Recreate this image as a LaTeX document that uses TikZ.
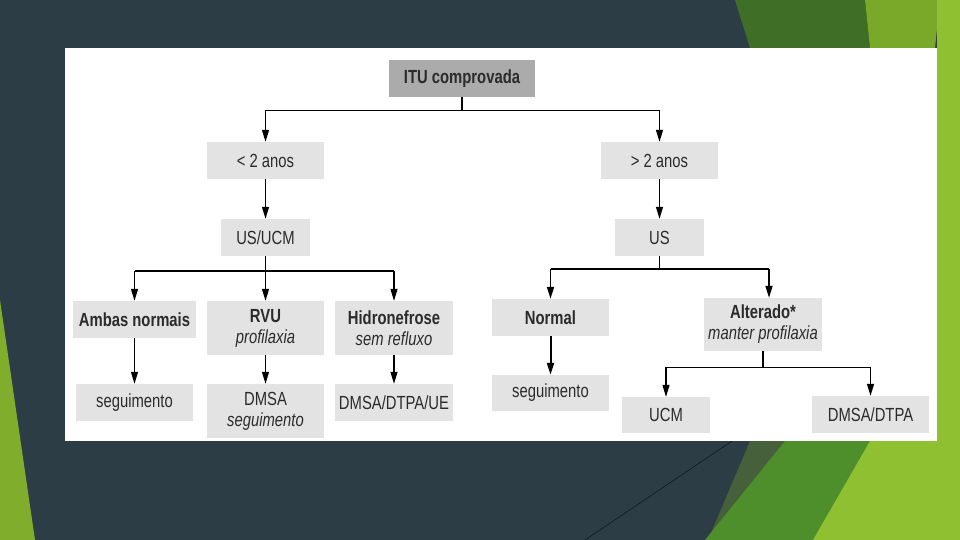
\documentclass[tikz,border=0pt]{standalone}
\usepackage{fontspec}
\setmainfont[FakeStretch=0.78]{Liberation Sans}
\usetikzlibrary{arrows.meta,calc}
\definecolor{slate}{HTML}{2C3D46}
\definecolor{gdark}{HTML}{3F6E27}
\definecolor{gmid}{HTML}{7AA92A}
\definecolor{glight}{HTML}{8FC031}
\definecolor{golive}{HTML}{45603A}
\definecolor{ggreen}{HTML}{4E8F2B}
\definecolor{boxgray}{HTML}{E3E3E3}
\definecolor{topgray}{HTML}{ABABAB}
\definecolor{txt}{HTML}{2B2B2B}
\tikzset{
  box/.style={fill=boxgray, inner sep=0pt, align=center, text=txt,
    font=\fontsize{19}{21}\selectfont},
  topbox/.style={box, fill=topgray},
  conn/.style={draw=black, line width=1.3pt, -{Triangle[length=12pt,width=7pt]}},
  plainline/.style={draw=black, line width=1.3pt},
  thick line/.style={line width=2pt}
}
\begin{document}
\begin{tikzpicture}[x=1pt,y=-1pt]
\useasboundingbox (0,0) rectangle (960,540);
% background
\fill[slate] (0,0) rectangle (960,540);
\fill[glight!90!black] (0,300) -- (35,540) -- (0,540) -- cycle;
\fill[gdark] (735,0) -- (865,0) -- (870,48) -- (750,48) -- cycle;
\fill[gmid] (865,0) -- (940,0) -- (935,48) -- (870,48) -- cycle;
\fill[glight] (937,0) -- (960,0) -- (960,540) -- (937,540) -- cycle;
\fill[golive] (750,441) -- (800,441) -- (720,540) -- (708,540) -- cycle;
\fill[ggreen] (785,441) -- (937,441) -- (937,540) -- (705,540) -- cycle;
\fill[glight] (870,441) -- (960,441) -- (960,540) -- (813,540) -- cycle;
\draw[line width=0.6pt, black!60!slate] (732,441) -- (585,540);
% white panel
\fill[white] (65,48) rectangle (937,441);
% nodes
\node[topbox, minimum width=146pt, minimum height=37pt] (itu) at (462,78.5) {\bfseries ITU comprovada};
\node[box, minimum width=117pt, minimum height=37pt] (lt2) at (265.5,160.5) {< 2 anos};
\node[box, minimum width=117pt, minimum height=37pt] (gt2) at (659.5,160.5) {> 2 anos};
\node[box, minimum width=89pt, minimum height=37pt] (usucm) at (265.5,237.5) {US/UCM};
\node[box, minimum width=89pt, minimum height=37pt] (us) at (659.5,237.5) {US};
\node[box, minimum width=123pt, minimum height=37pt] (ambas) at (134.5,319.5) {\bfseries Ambas normais};
\node[box, minimum width=117pt, minimum height=54pt] (rvu) at (265.5,328) {{\bfseries RVU}\\{\itshape profilaxia}};
\node[box, minimum width=118pt, minimum height=54pt] (hidro) at (394,328) {{\bfseries Hidronefrose}\\{\itshape sem refluxo}};
\node[box, minimum width=117pt, minimum height=37pt] (seg1) at (134.5,402.5) {seguimento};
\node[box, minimum width=117pt, minimum height=54pt] (dmsa) at (265.5,411) {DMSA\\{\itshape seguimento}};
\node[box, minimum width=118pt, minimum height=37pt] (dtpaue) at (394,402.5) {DMSA/DTPA/UE};
\node[box, minimum width=117pt, minimum height=37pt] (normal) at (550.5,317.5) {\bfseries Normal};
\node[box, minimum width=118pt, minimum height=53pt] (alter) at (763,324.5) {{\bfseries Alterado*}\\{\itshape manter profilaxia}};
\node[box, minimum width=117pt, minimum height=36pt] (seg2) at (550.5,393) {seguimento};
\node[box, minimum width=88pt, minimum height=36pt] (ucm) at (666,415) {UCM};
\node[box, minimum width=117pt, minimum height=37pt] (dmsadtpa) at (870.5,414.5) {DMSA/DTPA};
% coordinates
\coordinate (j1) at ($(itu.south)+(0,13)$);
\coordinate (j2) at ($(usucm.south)+(0,15)$);
\coordinate (j3) at ($(us.south)+(0,13)$);
\coordinate (j4) at ($(alter.south)+(0,16)$);
\coordinate (alterin) at ($(alter.north)+(6,0)$);
% connectors
\draw[plainline] (itu.south) -- (j1);
\draw[plainline] (lt2.north |- j1) -- (gt2.north |- j1);
\draw[conn] (lt2.north |- j1) -- (lt2.north);
\draw[conn] (gt2.north |- j1) -- (gt2.north);
\draw[conn] (lt2) -- (usucm);
\draw[conn] (gt2) -- (us);
\draw[conn] (usucm) -- (rvu);
\draw[plainline, thick line] (ambas.north |- j2) -- (hidro.north |- j2);
\draw[conn] (ambas.north |- j2) -- (ambas.north);
\draw[conn] (hidro.north |- j2) -- (hidro.north);
\draw[conn] (ambas) -- (seg1);
\draw[conn] (rvu) -- (dmsa);
\draw[conn] (hidro) -- (dtpaue);
\draw[plainline] (us.south) -- (j3);
\draw[plainline, line width=1.7pt] (normal.north |- j3) -- (alterin |- j3);
\draw[conn, line width=1.7pt] (normal.north |- j3) -- (normal.north);
\draw[conn, line width=1.7pt] (alterin |- j3) -- (alterin);
\draw[conn, line width=2pt] (normal) -- (seg2);
\draw[plainline] (alter.south) -- (j4);
\draw[plainline] (ucm.north |- j4) -- (dmsadtpa.north |- j4);
\draw[conn] (ucm.north |- j4) -- (ucm.north);
\draw[conn] (dmsadtpa.north |- j4) -- (dmsadtpa.north);
\end{tikzpicture}
\end{document}
